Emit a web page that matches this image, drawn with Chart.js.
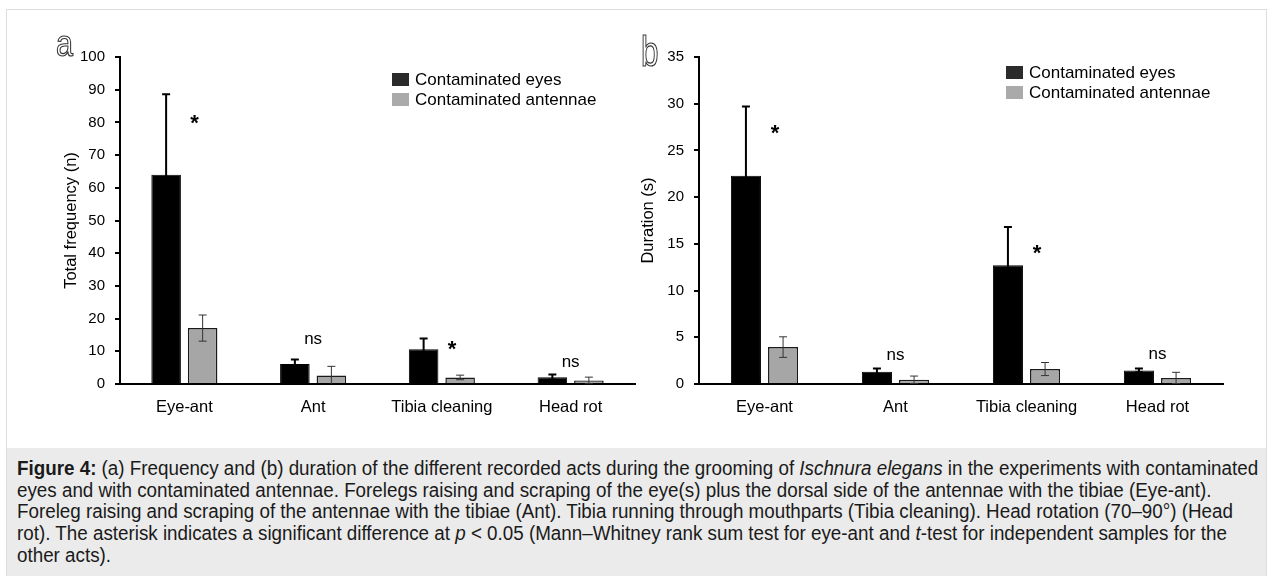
<!DOCTYPE html>
<html>
<head>
<meta charset="utf-8">
<script src="https://cdn.jsdelivr.net/npm/chart.js@4.4.1/dist/chart.umd.min.js"></script>
<style>
  body { margin: 0; background: #fff; width: 1272px; height: 576px; overflow: hidden; position: relative; }
  .frame { position: absolute; left: 6px; top: 9px; width: 1259px; height: 600px; border: 1px solid #dddddd; }
  .caption-bg { position: absolute; left: 7px; top: 448px; width: 1259px; height: 140px; background: #ebebeb; }
  .caption {
    position: absolute; left: 17px; top: 458px; white-space: nowrap;
    font-family: "Liberation Sans", Arial, sans-serif; font-size: 20px; line-height: 21.7px; color: #1a1a1a;
    transform: scaleX(0.94); transform-origin: 0 0;
  }
  canvas { position: absolute; top: 0; }
  #chart-a { left: 0; }
  #chart-b { left: 636px; }
</style>
</head>
<body>
<div class="frame"></div>
<div class="caption-bg"></div>
<canvas id="chart-a" width="636" height="440"></canvas>
<canvas id="chart-b" width="636" height="440"></canvas>
<div class="caption">
  <b>Figure 4:</b> (a) Frequency and (b) duration of the different recorded acts during the grooming of <i>Ischnura elegans</i> in the experiments with contaminated<br>
  eyes and with contaminated antennae. Forelegs raising and scraping of the eye(s) plus the dorsal side of the antennae with the tibiae (Eye-ant).<br>
  Foreleg raising and scraping of the antennae with the tibiae (Ant). Tibia running through mouthparts (Tibia cleaning). Head rotation (70–90°) (Head<br>
  rot). The asterisk indicates a significant difference at <i>p</i> &lt; 0.05 (Mann–Whitney rank sum test for eye-ant and <i>t</i>-test for independent samples for the<br>
  other acts).
</div>
<script>
/*
* =============================================
* DATA
* ============================================= */
const categories = ['Eye-ant', 'Ant', 'Tibia cleaning', 'Head rot'];
const seriesNames = ['Contaminated eyes', 'Contaminated antennae'];

// (a) total frequency (n)
const freqEyes = [64, 6.1, 10.6, 2.1];
const freqEyesErr = [24.6, 1.4, 3.3, 0.8];
const freqAnt = [17.1, 2.6, 2.0, 1.1];
const freqAntErr = [4.0, 2.8, 0.7, 1.0];
const freqMax = 100;
const freqStep = 10;

// (b) duration (s)
const durEyes = [22.3, 1.3, 12.7, 1.45];
const durEyesErr = [7.4, 0.35, 4.1, 0.2];
const durAnt = [3.95, 0.45, 1.6, 0.65];
const durAntErr = [1.1, 0.4, 0.7, 0.6];
const durMax = 35;
const durStep = 5;

// significance marks and the value they sit at
const freqMarks = ['*', 'ns', '*', 'ns'];
const freqMarkAt = [81.5, 13.5, 12.5, 6.5];
const durMarks = ['*', 'ns', '*', 'ns'];
const durMarkAt = [27.5, 3.0, 14.6, 3.2];

const FONT = '"Liberation Sans", Arial, sans-serif';

/*
* =============================================
* PLUGINS
* ============================================= */
const errorBars = {
  id: 'errorBars',
  afterDatasetsDraw(chart) {
    const {ctx, scales: {y}} = chart;
    chart.data.datasets.forEach((ds, i) => {
      const meta = chart.getDatasetMeta(i);
      ctx.save();
      ctx.strokeStyle = ds.errColor;
      ctx.lineWidth = ds.errWidth;
      meta.data.forEach((bar, j) => {
        const v = ds.data[j], e = ds.errors[j];
        const top = y.getPixelForValue(v + e),
          bot = y.getPixelForValue(Math.max(v - e, 0)),
          x = bar.x;
        ctx.beginPath();
        ctx.moveTo(x, top); ctx.lineTo(x, bot);
        ctx.moveTo(x - 4, top); ctx.lineTo(x + 4, top);
        if (v - e > 0) { ctx.moveTo(x - 4, bot); ctx.lineTo(x + 4, bot); }
        ctx.stroke();
      });
      ctx.restore();
    });
  }
};

const extras = {
  id: 'extras',
  afterDraw(chart, args, opts) {
    const {ctx, scales: {x, y}} = chart;
    const grey = chart.getDatasetMeta(1);
    ctx.save();

    // significance marks
    ctx.fillStyle = '#000';
    ctx.textAlign = 'center';
    ctx.textBaseline = 'alphabetic';
    opts.marks.forEach((m, i) => {
      const py = y.getPixelForValue(opts.markAt[i]);
      if (m === '*') {
        ctx.font = 'bold 22px ' + FONT;
        ctx.fillText(m, grey.data[i].x - 8, py + 0.57 * 22);
      } else {
        ctx.font = '17px ' + FONT;
        ctx.fillText(m, x.getPixelForValue(i), py + 0.26 * 17);
      }
    });

    // legend
    ctx.textAlign = 'left';
    ctx.textBaseline = 'middle';
    ctx.font = '17px ' + FONT;
    seriesNames.forEach((name, i) => {
      const top = opts.legendY + i * 20;
      ctx.fillStyle = opts.legendColors[i];
      ctx.fillRect(opts.legendX, top, 17, 13);
      ctx.fillStyle = '#000';
      ctx.fillText(name, opts.legendX + 23, top + 7);
    });

    // panel letter (outlined)
    ctx.save();
    ctx.translate(opts.letterX, opts.letterY);
    ctx.scale(opts.letterScale, 1);
    ctx.font = opts.letterSize + 'px ' + FONT;
    ctx.textAlign = 'left';
    ctx.textBaseline = 'alphabetic';
    ctx.lineWidth = 1.2;
    ctx.strokeStyle = '#333';
    ctx.strokeText(opts.letter, 0, 0);
    ctx.restore();

    ctx.restore();
  }
};

/*
* =============================================
* CHART BUILDER
* ============================================= */
const buildChart = (canvasId, cfg) => {
  return new Chart(document.getElementById(canvasId), {
    type: 'bar',
    data: {
      labels: categories,
      datasets: [{
        label: seriesNames[0],
        data: cfg.eyes,
        errors: cfg.eyesErr,
        backgroundColor: '#000000',
        borderColor: '#000000',
        borderWidth: 1,
        errColor: '#000000',
        errWidth: 2,
        categoryPercentage: 0.567,
        barPercentage: 0.81
      }, {
        label: seriesNames[1],
        data: cfg.ant,
        errors: cfg.antErr,
        backgroundColor: '#a6a6a6',
        borderColor: '#1a1a1a',
        borderWidth: 1.5,
        errColor: '#333333',
        errWidth: 1,
        categoryPercentage: 0.567,
        barPercentage: 0.81
      }]
    },
    options: {
      responsive: false,
      devicePixelRatio: 1,
      animation: false,
      layout: {padding: cfg.padding},
      plugins: {
        legend: {display: false},
        tooltip: {enabled: false},
        extras: cfg.extras
      },
      scales: {
        x: {
          grid: {display: false, drawTicks: false},
          border: {display: true, color: '#000', width: 2},
          ticks: {color: '#000', padding: 14, font: {family: FONT, size: 16.5}},
          afterFit: (s) => { s.height = 40; }
        },
        y: {
          min: 0,
          max: cfg.max,
          grid: {drawOnChartArea: false, drawTicks: true, tickLength: 5, color: '#000', lineWidth: 2},
          border: {display: true, color: '#000', width: 2},
          ticks: {stepSize: cfg.step, color: '#000', padding: 10, font: {family: FONT, size: 15}},
          title: {display: true, text: cfg.title, color: '#000', padding: 0, font: {family: FONT, size: 16.5}},
          afterFit: (s) => { s.width = cfg.yWidth; }
        }
      }
    },
    plugins: [errorBars, extras]
  });
};

const initCharts = () => {
  buildChart('chart-a', {
    eyes: freqEyes, eyesErr: freqEyesErr, ant: freqAnt, antErr: freqAntErr,
    max: freqMax, step: freqStep, title: 'Total frequency (n)',
    padding: {left: 62, right: 1, top: 57, bottom: 16},
    yWidth: 58,
    extras: {
      marks: freqMarks, markAt: freqMarkAt,
      legendX: 392, legendY: 73, legendColors: ['#2b2b2b', '#aaaaaa'],
      letter: 'a', letterX: 56, letterY: 56, letterSize: 36, letterScale: 0.85
    }
  });

  buildChart('chart-b', {
    eyes: durEyes, eyesErr: durEyesErr, ant: durAnt, antErr: durAntErr,
    max: durMax, step: durStep, title: 'Duration (s)',
    padding: {left: 2.6, right: 49, top: 57, bottom: 16},
    yWidth: 60.4,
    extras: {
      marks: durMarks, markAt: durMarkAt,
      legendX: 370, legendY: 66, legendColors: ['#2b2b2b', '#aaaaaa'],
      letter: 'b', letterX: 5, letterY: 66, letterSize: 42, letterScale: 0.75
    }
  });
};

initCharts();
</script>
</body>
</html>
